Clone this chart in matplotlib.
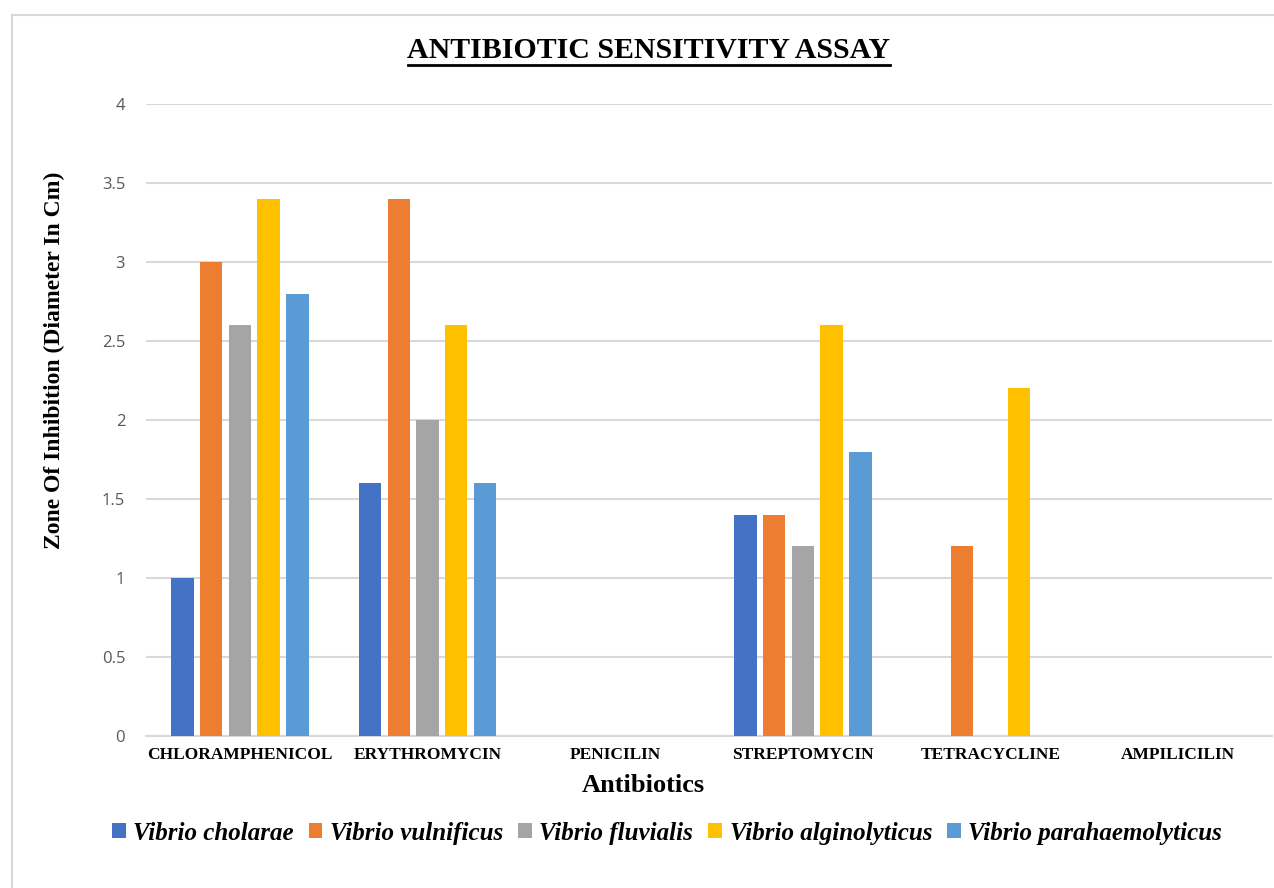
import numpy as np
from matplotlib import pyplot as plt
from matplotlib.patches import Rectangle

antibiotics = ["CHLORAMPHENICOL", "ERYTHROMYCIN", "PENICILIN",
               "STREPTOMYCIN", "TETRACYCLINE", "AMPILICILIN"]
species = ["Vibrio cholarae", "Vibrio vulnificus", "Vibrio fluvialis",
           "Vibrio alginolyticus", "Vibrio parahaemolyticus"]
cholarae = [1.0, 1.6, 0, 1.4, 0, 0]
vulnificus = [3.0, 3.4, 0, 1.4, 1.2, 0]
fluvialis = [2.6, 2.0, 0, 1.2, 0, 0]
alginolyticus = [3.4, 2.6, 0, 2.6, 2.2, 0]
parahaemolyticus = [2.8, 1.6, 0, 1.8, 0, 0]
series = [cholarae, vulnificus, fluvialis, alginolyticus, parahaemolyticus]
colors = ["#4472C4", "#ED7D31", "#A5A5A5", "#FFC000", "#5B9BD5"]

serif = "Liberation Serif"

fig = plt.figure(figsize=(12.74, 8.88), dpi=100)
# chart frame
fig.patches.append(Rectangle((12 / 1274, -0.1), 1.2, (888 - 15) / 888 + 0.1,
                             transform=fig.transFigure, fill=False,
                             edgecolor="#D9D9D9", linewidth=1.5))

ax = fig.add_axes([146 / 1274, 1 - 736 / 888, (1272 - 146) / 1274, (736 - 104) / 888])

x = np.arange(len(antibiotics))
width = 0.12
step = 0.153
for i, (vals, col, name) in enumerate(zip(series, colors, species)):
    ax.bar(x + (i - 2) * step, vals, width, color=col, label=name, zorder=3)

ax.set_xlim(-0.5, len(antibiotics) - 0.5)
ax.set_ylim(0, 4)
ax.set_yticks(np.arange(0, 4.01, 0.5))
ax.set_yticklabels(["0", "0.5", "1", "1.5", "2", "2.5", "3", "3.5", "4"])
ax.yaxis.grid(True, color="#D9D9D9", linewidth=1.5, zorder=0)
for s in ["top", "right", "left"]:
    ax.spines[s].set_visible(False)
ax.spines["bottom"].set_color("#D9D9D9")
ax.spines["bottom"].set_linewidth(1.5)
ax.tick_params(axis="y", length=0, pad=15, labelsize=12, labelcolor="#595959")
ax.tick_params(axis="x", length=0, pad=8)
ax.set_xticks(x)
ax.set_xticklabels(antibiotics, family=serif, fontweight="bold", fontsize=12.5)
for t in ax.get_yticklabels():
    t.set_family("Open Sans")

fig.text(643 / 1274, 1 - 785 / 888, "Antibiotics", ha="center", va="center",
         family=serif, fontweight="bold", fontsize=19)
fig.text(54 / 1274, 1 - 360 / 888, "Zone Of Inhibition (Diameter In Cm)",
         ha="center", va="center", rotation=90,
         family=serif, fontweight="bold", fontsize=17)

fig.text(649 / 1274, 1 - 51 / 888, "ANTIBIOTIC SENSITIVITY ASSAY", ha="center",
         va="center", family=serif, fontweight="bold", fontsize=21.5)
fig.add_artist(plt.Line2D([408 / 1274, 890 / 1274], [1 - 65 / 888, 1 - 65 / 888],
                          color="black", linewidth=2))

leg = fig.legend(loc="center", bbox_to_anchor=(667 / 1274, 1 - 833 / 888), ncol=5,
                 frameon=False, handlelength=0.55, handleheight=0.55,
                 handletextpad=0.3, columnspacing=0.6,
                 prop={"family": serif, "weight": "bold", "style": "italic", "size": 18})

fig.savefig("out.png", dpi=100)
